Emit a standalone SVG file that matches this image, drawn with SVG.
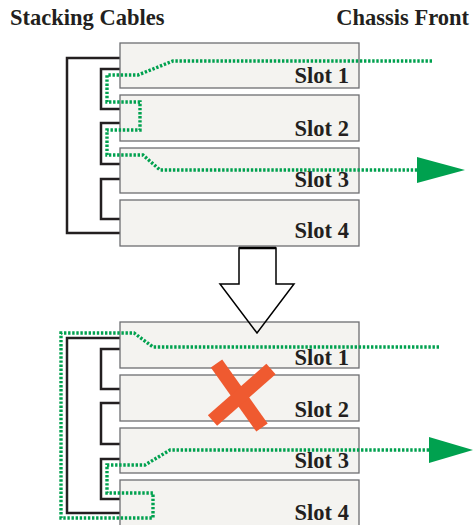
<svg xmlns="http://www.w3.org/2000/svg" width="473" height="525" viewBox="0 0 473 525">
<style>
.slot{fill:#f4f3f0;stroke:#6d6e71;stroke-width:1.3}
.cab{fill:none;stroke:#231f20;stroke-width:2.5}
.grn{fill:none;stroke:#00a14f;stroke-width:3.4;stroke-dasharray:2.4 1.7}
.arr{fill:#00a14f}
.lbl{font-family:"Liberation Serif","Times New Roman",serif;font-weight:bold;font-size:22.5px;fill:#231f20}
.end{text-anchor:end}
</style>
<rect width="473" height="525" fill="#ffffff"/>
<text id="title-left" class="lbl" x="10" y="25">Stacking Cables</text>
<text id="title-right" class="lbl end" x="469" y="25">Chassis Front</text>
<g id="connectors">
<path class="cab" d="M120,58 H67 V233 H120"/>
<path class="cab" d="M120,69 H101 V109 H120"/>
<path class="cab" d="M120,123 H101 V164 H120"/>
<path class="cab" d="M120,179 H101 V219 H120"/>
<path class="cab" d="M120,338 H67 V513 H120"/>
<path class="cab" d="M120,349 H101 V389 H120"/>
<path class="cab" d="M120,403 H101 V444 H120"/>
<path class="cab" d="M120,459 H101 V499 H120"/>
</g>
<g id="top-slot1"><rect class="slot" x="120" y="43" width="239" height="45"/><text class="lbl end" x="349" y="83">Slot 1</text></g>
<g id="top-slot2"><rect class="slot" x="120" y="95" width="239" height="46"/><text class="lbl end" x="349" y="136">Slot 2</text></g>
<g id="top-slot3"><rect class="slot" x="120" y="148" width="239" height="45"/><text class="lbl end" x="349" y="187">Slot 3</text></g>
<g id="top-slot4"><rect class="slot" x="120" y="200" width="239" height="46"/><text class="lbl end" x="349" y="238">Slot 4</text></g>
<g id="bot-slot1"><rect class="slot" x="120" y="322" width="239" height="46"/><text class="lbl end" x="349" y="365">Slot 1</text></g>
<g id="bot-slot2"><rect class="slot" x="120" y="375" width="239" height="46"/><text class="lbl end" x="349" y="417">Slot 2</text></g>
<g id="bot-slot3"><rect class="slot" x="120" y="428" width="239" height="45"/><text class="lbl end" x="349" y="468">Slot 3</text></g>
<g id="bot-slot4"><rect class="slot" x="120" y="480" width="239" height="46"/><text class="lbl end" x="349" y="520">Slot 4</text></g>
<g id="transition-arrow">
<polygon points="239,248 276,248 276,284 294,284 257,333 220,284 239,284" fill="none" stroke="#000" stroke-width="1.5"/>
<line x1="239" y1="248" x2="276" y2="248" stroke="#000" stroke-width="2.5"/>
</g>
<g id="green-paths">
<path class="grn" d="M432,61 H173 L138,75 H107 V102 H140 V130 H107 V155 H143 L160,170 H417"/>
<polygon class="arr" points="417,157 465,170 417,183"/>
<path class="grn" d="M439,347 H153 L134,333 H61 V518 H153 V493 H107 V465 H145 L170,450 H429"/>
<polygon class="arr" points="429,437 473,450 429,463"/>
</g>
<g id="failed-x" stroke="#ef5a30" stroke-width="14">
<line x1="216.5" y1="363.5" x2="262" y2="427.5"/>
<line x1="212.5" y1="420.5" x2="271" y2="369"/>
</g>
</svg>
